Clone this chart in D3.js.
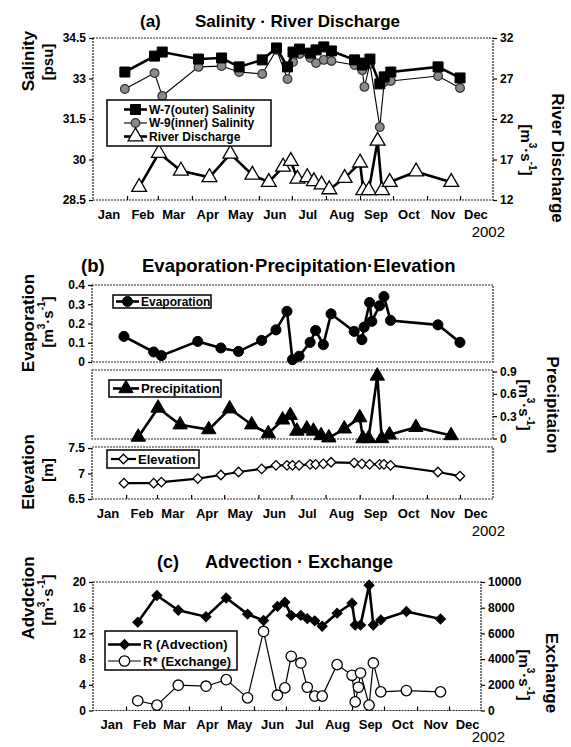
<!DOCTYPE html>
<html>
<head>
<meta charset="utf-8">
<script src="https://cdn.jsdelivr.net/npm/d3@7"></script>
<style>
  body { margin: 0; background: #fff; }
  svg { font-family: "Liberation Sans", Arial, sans-serif; font-weight: bold; }
</style>
</head>
<body>
<div id="chart"></div>
<script>
// ---- data (year 2002) ----
const monthNames = ["Jan","Feb","Mar","Apr","May","Jun","Jul","Aug","Sep","Oct","Nov","Dec"];

// (a) salinity, sampled at the stations
const salinityDates = ["01-30","02-26","03-05","04-07","04-28","05-14","06-04","06-17","06-27","07-02","07-08","07-18",
                       "07-23","07-30","08-06","08-27","09-03","09-05","09-10","09-19","09-23","09-29","11-11","12-01"];
const w7Salinity = [33.24,33.83,33.98,33.72,33.76,33.43,33.69,34.13,33.43,33.98,34.09,33.94,
                    34.06,34.17,34.02,33.69,33.50,33.57,33.72,32.80,33.06,33.24,33.43,33.02];
const w9Salinity = [32.61,33.20,32.35,33.43,33.46,33.24,33.17,34.06,32.98,33.61,33.91,33.76,
                    33.57,33.69,33.65,33.50,33.31,32.69,33.54,31.20,32.87,32.91,33.09,32.65];

// river discharge / precipitation / advection share these dates
const flowDates = ["02-12","03-02","03-22","04-17","05-06","05-26","06-10","06-23","06-30","07-06","07-15","07-21",
                   "07-28","08-04","08-18","09-01","09-04","09-09","09-17","09-21","09-28","10-22","11-23"];
const riverDischarge = [13.6,17.8,15.6,14.8,17.7,15.1,14.2,16.1,16.8,14.6,14.8,14.3,
                        13.9,13.3,14.7,16.6,13.2,13.2,19.3,13.2,14.2,15.5,14.2];
const precipitation = [0.02,0.41,0.185,0.12,0.40,0.185,0.065,0.25,0.31,0.10,0.13,0.10,
                       0.04,0.01,0.13,0.28,0.0,0.0,0.84,0.0,0.05,0.15,0.04];
const advection = [13.75,17.9,15.6,14.6,17.5,15.0,14.0,16.2,16.85,14.8,14.8,14.3,
                   13.95,13.1,15.15,16.7,13.3,13.3,19.5,13.3,14.1,15.4,14.25];

// (b) evaporation and elevation
const evapDates = ["01-30","02-26","03-05","04-07","04-28","05-14","06-04","06-17","06-27","07-02","07-08","07-18",
                   "07-23","07-30","08-06","08-27","09-03","09-05","09-10","09-12","09-19","09-23","09-29","11-11","12-01"];
const evaporation = [0.133,0.052,0.033,0.107,0.073,0.055,0.112,0.167,0.263,0.012,0.030,0.102,
                     0.164,0.090,0.250,0.159,0.116,0.181,0.309,0.211,0.292,0.340,0.216,0.193,0.102];
const elevDates = ["01-30","02-26","03-05","04-07","04-28","05-14","06-04","06-17","06-27","07-02","07-08","07-18",
                   "07-23","07-30","08-06","08-27","09-03","09-10","09-19","09-23","09-29","11-11","12-01"];
const elevation = [6.81,6.81,6.83,6.90,6.97,7.03,7.09,7.16,7.16,7.16,7.16,7.18,
                   7.18,7.19,7.22,7.21,7.19,7.18,7.18,7.18,7.16,7.03,6.95];

// (c) exchange
const exchangeDates = ["02-12","03-02","03-22","04-17","05-06","05-26","06-10","06-23","06-30","07-06","07-15","07-21",
                       "07-28","08-04","08-18","09-01","09-04","09-07","09-09","09-17","09-21","09-28","10-22","11-23"];
const exchange = [760,420,1970,1890,2400,985,6150,1190,1760,4220,3700,1810,
                  1120,1120,3570,2740,670,1810,2920,420,3700,1450,1550,1450];

// tick labels
const salinityTicks = [28.5,30,31.5,33,34.5];
const dischargeTicks = [12,17,22,27,32];
const evapTicks = [0,0.1,0.2,0.3,0.4];
const precipTicks = [0,0.3,0.6,0.9];
const elevTicks = [6.5,7,7.5];
const advTicks = [0,4,8,12,16,20];
const excTicks = [0,2000,4000,6000,8000,10000];

// ---- drawing ----
const width = 571, height = 747;
const svg = d3.select("#chart").append("svg")
    .attr("width", width)
    .attr("height", height);

const parseDay = s => d3.timeParse("%Y-%m-%d")("2002-" + s);
const yearStart = new Date(2002, 0, 1), yearEnd = new Date(2002, 11, 31);
const monthStarts = d3.timeMonths(new Date(2002, 1, 1), new Date(2002, 11, 2));
const monthFirsts = d3.timeMonths(yearStart, new Date(2003, 0, 1));

function box(x0, y0, x1, y1) {
    svg.append("rect")
        .attr("x", x0).attr("y", y0)
        .attr("width", x1 - x0).attr("height", y1 - y0)
        .attr("fill", "none")
        .attr("stroke", "#222")
        .attr("stroke-width", 1.2)
        .attr("stroke-dasharray", "2,1");
}

function monthAxis(x, yBottom, labelY, yearY, yearX, dayOffset) {
    svg.append("g")
        .attr("transform", `translate(0,${yBottom})`)
        .call(d3.axisBottom(x).tickValues(monthStarts).tickSizeInner(-4).tickSizeOuter(0).tickFormat(""))
        .call(g => g.select(".domain").remove())
        .call(g => g.selectAll("line").attr("stroke", "#000").attr("stroke-width", 1.2));
    // month names sit in the middle of each month
    const mids = monthFirsts.map(d => d3.timeDay.offset(d, dayOffset));
    svg.append("g")
        .attr("transform", `translate(0,${labelY})`)
        .call(d3.axisBottom(x).tickValues(mids).tickSize(0).tickPadding(0).tickFormat((d, i) => monthNames[i]))
        .call(g => g.select(".domain").remove())
        .call(g => g.selectAll("text")
            .attr("dy", null)
            .attr("dominant-baseline", "central")
            .attr("font-size", 13)
            .attr("font-weight", "bold")
            .attr("font-family", "Liberation Sans, Arial, sans-serif")
            .attr("fill", "#000"));
    svg.append("text")
        .attr("x", yearX).attr("y", yearY)
        .attr("text-anchor", "end")
        .attr("font-size", 15)
        .attr("font-weight", "normal")
        .text("2002");
}

function yAxis(scale, xPos, side, ticks, fmt) {
    const axis = (side === "left" ? d3.axisLeft(scale) : d3.axisRight(scale))
        .tickValues(ticks).tickSizeInner(4).tickSizeOuter(0).tickPadding(3).tickFormat(fmt);
    svg.append("g")
        .attr("transform", `translate(${xPos},0)`)
        .call(axis)
        .call(g => g.select(".domain").remove())
        .call(g => g.selectAll("line").attr("stroke", "#000").attr("stroke-width", 1.2))
        .call(g => g.selectAll("text")
            .attr("font-size", 12)
            .attr("font-weight", "bold")
            .attr("font-family", "Liberation Sans, Arial, sans-serif")
            .attr("fill", "#000"));
}

function series(x, y, dates, values, o) {
    const pts = dates.map((d, i) => ({ t: parseDay(d), v: values[i] }));
    const line = d3.line().x(d => x(d.t)).y(d => y(d.v));
    svg.append("path")
        .datum(pts)
        .attr("d", line)
        .attr("fill", "none")
        .attr("stroke", "#000")
        .attr("stroke-width", o.lw);
    svg.append("g").selectAll("path")
        .data(pts)
        .join("path")
        .attr("transform", d => `translate(${x(d.t)},${y(d.v)})` + (o.rot ? " rotate(45)" : ""))
        .attr("d", d3.symbol(o.sym, o.size))
        .attr("fill", o.fill)
        .attr("stroke", o.mstroke || "#000")
        .attr("stroke-width", o.mlw || 1);
}

function legend(x0, y0, w, h, rows, fs) {
    svg.append("rect")
        .attr("x", x0).attr("y", y0).attr("width", w).attr("height", h)
        .attr("fill", "#fff").attr("stroke", "#000").attr("stroke-width", 1.5);
    rows.forEach(r => {
        svg.append("line")
            .attr("x1", r.lx0).attr("x2", r.lx1).attr("y1", r.y).attr("y2", r.y)
            .attr("stroke", "#000").attr("stroke-width", r.o.lw);
        svg.append("path")
            .attr("transform", `translate(${(r.lx0 + r.lx1) / 2},${r.y})` + (r.o.rot ? " rotate(45)" : ""))
            .attr("d", d3.symbol(r.o.sym, r.o.size))
            .attr("fill", r.o.fill)
            .attr("stroke", r.o.mstroke || "#000")
            .attr("stroke-width", r.o.mlw || 1);
        svg.append("text")
            .attr("x", r.lx1 + 2).attr("y", r.y)
            .attr("dominant-baseline", "central")
            .attr("font-size", fs)
            .text(r.label);
    });
}

function title(tag, tagX, text, textX, y, fs) {
    const t = svg.append("text").attr("y", y).attr("font-size", fs);
    t.append("tspan").attr("x", tagX).text(tag);
    t.append("tspan").attr("x", textX).text(text);
}

function unitLabel(cx, cy, rot, parts) {
    // parts: array of [text, isSuperscript]
    const t = svg.append("text")
        .attr("transform", `translate(${cx},${cy}) rotate(${rot})`)
        .attr("text-anchor", "middle")
        .attr("dominant-baseline", "central")
        .attr("font-size", 15);
    let up = false;
    parts.forEach(([s, sup]) => {
        const ts = t.append("tspan").text(s);
        if (sup && !up) { ts.attr("dy", -6).attr("font-size", 10); up = true; }
        else if (sup) { ts.attr("font-size", 10); }
        else if (up) { ts.attr("dy", 6); up = false; }
    });
}

function axisTitle(cx, cy, rot, text, fs) {
    svg.append("text")
        .attr("transform", `translate(${cx},${cy}) rotate(${rot})`)
        .attr("text-anchor", "middle")
        .attr("dominant-baseline", "central")
        .attr("font-size", fs)
        .text(text);
}

const m3s = [["[m", false], ["3", true], ["·s", false], ["-1", true], ["]", false]];

// marker styles
const sqStyle  = { lw: 2.6, sym: d3.symbolSquare, size: 100, fill: "#000" };
const w9Style  = { lw: 1.1, sym: d3.symbolCircle, size: 60, fill: "#8a8a8a", mstroke: "#333", mlw: 1.2 };
const triStyle = { lw: 2.6, sym: d3.symbolTriangle, size: 95, fill: "#fff", mlw: 1.3 };
const evStyle  = { lw: 2.6, sym: d3.symbolCircle, size: 80, fill: "#000" };
const prStyle  = { lw: 2.6, sym: d3.symbolTriangle, size: 90, fill: "#000" };
const elStyle  = { lw: 2.2, sym: d3.symbolSquare, size: 45, fill: "#fff", rot: true, mlw: 1.3 };
const advStyle = { lw: 2.6, sym: d3.symbolSquare, size: 50, fill: "#000", rot: true };
const excStyle = { lw: 1.2, sym: d3.symbolCircle, size: 85, fill: "#fff", mlw: 1.3 };

// ===== (a) Salinity · River Discharge =====
const xA = d3.scaleTime().domain([yearStart, yearEnd]).range([93, 493]);
const ySal = d3.scaleLinear().domain([28.5, 34.5]).range([200, 38]);
const yDis = d3.scaleLinear().domain([12, 32]).range([200, 38]);

title("(a)", 140, "Salinity · River Discharge", 195, 27, 17);
box(93, 38, 493, 200);
yAxis(ySal, 93, "left", salinityTicks, d3.format(""));
yAxis(yDis, 493, "right", dischargeTicks, d3.format(""));
monthAxis(xA, 200, 214, 237, 505, 14);
series(xA, ySal, salinityDates, w9Salinity, w9Style);
series(xA, ySal, salinityDates, w7Salinity, sqStyle);
series(xA, yDis, flowDates, riverDischarge, triStyle);
legend(107, 100, 164, 46, [
    { label: "W-7(outer) Salinity", y: 109.5, lx0: 124, lx1: 147, o: sqStyle },
    { label: "W-9(inner) Salinity", y: 123, lx0: 124, lx1: 147, o: w9Style },
    { label: "River Discharge", y: 136.5, lx0: 124, lx1: 147, o: triStyle }
], 12);
axisTitle(28, 61, -90, "Salinity", 17);
axisTitle(47, 62, -90, "[psu]", 15);
axisTitle(557, 158, 90, "River Discharge", 17);
unitLabel(527, 150, 90, m3s);

// ===== (b) Evaporation · Precipitation · Elevation =====
const xB = d3.scaleTime().domain([yearStart, yearEnd]).range([92, 493]);
const yEva = d3.scaleLinear().domain([0, 0.4]).range([362, 285]);
const yPre = d3.scaleLinear().domain([0, 0.9]).range([438.5, 371.5]);
const yEle = d3.scaleLinear().domain([6.5, 7.5]).range([499, 448]);

title("(b)", 81, "Evaporation·Precipitation·Elevation", 142, 272, 18.5);
box(92, 285, 493, 362);
box(92, 370, 493, 439);
box(92, 447, 493, 499);
yAxis(yEva, 92, "left", evapTicks, d3.format(""));
yAxis(yPre, 493, "right", precipTicks, d3.format(""));
yAxis(yEle, 92, "left", elevTicks, d3.format(""));
monthAxis(xB, 499, 513, 536, 505, 14);
series(xB, yEva, evapDates, evaporation, evStyle);
series(xB, yPre, flowDates, precipitation, prStyle);
series(xB, yEle, elevDates, elevation, elStyle);
legend(113, 295, 98, 13, [
    { label: "Evaporation", y: 301.5, lx0: 116, lx1: 139, o: evStyle }
], 12);
legend(109, 380, 112, 17, [
    { label: "Precipitation", y: 388.5, lx0: 113, lx1: 139, o: prStyle }
], 13);
legend(107, 450, 92, 18, [
    { label: "Elevation", y: 459, lx0: 111, lx1: 136, o: elStyle }
], 13);
axisTitle(28, 323, -90, "Evaporation", 17);
unitLabel(47, 322, -90, m3s);
axisTitle(28, 472, -90, "Elevation", 17);
axisTitle(47, 470, -90, "[m]", 15);
axisTitle(552, 405, 90, "Precipitaion", 17);
unitLabel(525, 405, 90, m3s);

// ===== (c) Advection · Exchange =====
const xC = d3.scaleTime().domain([yearStart, yearEnd]).range([93, 481]);
const yAdv = d3.scaleLinear().domain([0, 20]).range([710.5, 582]);
const yExc = d3.scaleLinear().domain([0, 10000]).range([710.5, 582]);

title("(c)", 157, "Advection · Exchange", 205, 568, 18);
box(93, 582, 481, 710.5);
yAxis(yAdv, 93, "left", advTicks, d3.format(""));
yAxis(yExc, 481, "right", excTicks, d3.format(""));
monthAxis(xC, 710.5, 724, 742, 505, 17);
series(xC, yAdv, flowDates, advection, advStyle);
series(xC, yExc, exchangeDates, exchange, excStyle);
legend(105, 631, 132, 39, [
    { label: "R (Advection)", y: 644.5, lx0: 108, lx1: 141, o: advStyle },
    { label: "R* (Exchange)", y: 661, lx0: 108, lx1: 141, o: excStyle }
], 13);
axisTitle(28, 598, -90, "Advdction", 17);
unitLabel(47, 600, -90, m3s);
axisTitle(551, 673, 90, "Exchange", 17);
unitLabel(525, 675, 90, m3s);
</script>
</body>
</html>
